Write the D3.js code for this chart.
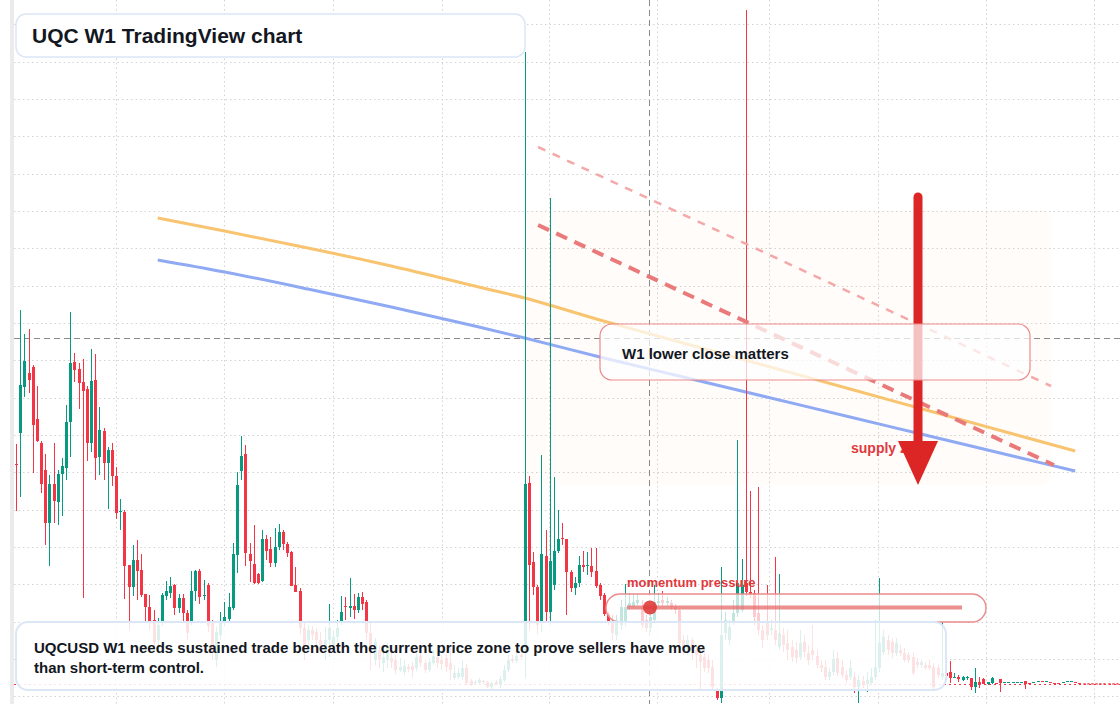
<!DOCTYPE html>
<html><head><meta charset="utf-8">
<script src="https://cdn.jsdelivr.net/npm/d3@7"></script>
<style>html,body{margin:0;padding:0;background:#fff;overflow:hidden}svg{display:block;font-family:"Liberation Sans",Arial,sans-serif}</style>
</head><body><svg id="c" width="1120" height="704"></svg>
<script>
// Weekly UQCUSD candles, prices in US cents
const openP = [
240,271,317,331,337,285,261,234,181,220,
202,230,236,282,342,335,322,315,261,324,
247,273,241,254,228,192,192,139,117,144,
134,110,97,84,64,82,108,111,119,96,
106,91,82,113,133,108,119,82,44,69,
82,85,96,149,233,250,150,140,130,123,
165,155,141,157,172,160,152,119,113,76,
64,74,72,64,54,64,59,67,82,98,
96,98,94,107,102,71,44,54,41,44,
46,44,34,32,37,38,36,48,41,34,
41,47,44,46,41,26,27,27,36,23,
21,21,23,22,17,22,19,24,34,45,
43,49,54,221,142,117,82,148,92,119,
153,166,165,132,116,121,139,138,138,133,
119,109,90,82,69,79,82,97,98,101,
97,84,76,84,101,104,101,101,97,94,
64,54,64,54,49,47,44,37,13,6,
71,64,82,91,94,121,112,111,91,74,
82,74,74,57,69,61,57,54,47,62,
51,54,48,39,37,27,32,46,37,29,
27,27,17,23,20,21,27,36,52,64,
62,51,54,51,49,47,42,39,39,39,
37,36,27,31,32,26,27,24,26,26,
17,22,25,20,21,21,25,21,21,21,
21,21,23,21,21,22,23,22,22,21,
21,21,22,22,22,21,20.5,20.5,20.5,20.5,
20.5,20.5,20.5,20.5,20.5];
const closeP = [
239,319,343,324,279,263,220,181,220,203,
230,238,282,341,334,321,313,261,323,246,
274,241,254,228,191,193,138,117,144,133,
109,97,82,62,79,109,113,118,96,106,
91,71,113,133,107,109,78,51,72,82,
87,97,150,219,248,151,143,121,121,165,
153,141,157,172,160,151,118,112,76,57,
74,69,64,59,64,76,67,76,92,97,
98,94,107,100,71,54,62,44,47,56,
42,34,37,38,35,34,47,41,34,42,
48,41,40,37,34,31,31,36,21,19,
22,24,22,17,21,20,25,34,44,43,
48,47,220,139,117,79,150,92,143,153,
165,165,132,116,121,139,137,139,132,118,
108,90,82,71,84,97,97,101,102,104,
79,76,87,102,103,101,103,97,94,61,
56,64,54,49,42,36,36,17,6,69,
84,77,91,121,119,112,109,87,74,64,
69,76,64,71,59,54,47,46,61,52,
44,49,39,36,27,32,45,31,29,24,
36,17,24,19,24,27,37,61,67,54,
51,61,51,44,44,31,39,42,36,36,
17,29,31,28,26,27,25,27,27,17,
22,19,20,22,26,20,21,22,22,22,
22,22,20,20,22,23,22,23,21,20,
20,22,23,23,21,20,20,20,20,20,
20,20,20,20,20];
const highP = [
260,394,370,375,339,318,263,250,229,261,
234,246,299,392,351,341,345,318,355,350,
297,276,257,261,237,205,194,139,159,164,
150,110,109,94,86,111,123,127,120,110,
110,94,133,134,135,124,121,84,77,92,
102,111,161,232,268,259,161,179,131,174,
169,167,176,180,174,162,153,137,116,82,
79,78,76,72,77,100,74,84,108,107,
126,110,111,112,104,81,66,59,54,61,
54,49,46,44,40,42,54,52,44,46,
54,52,49,50,59,39,36,44,40,25,
24,26,24,23,22,24,28,39,49,49,
54,54,652,228,152,119,249,174,506,227,
194,181,165,134,127,148,153,152,156,156,
121,111,92,89,89,104,120,111,110,110,
104,89,92,119,111,113,107,104,100,96,
69,69,66,59,54,54,49,44,16,137,
92,84,104,264,145,694,213,114,217,79,
119,84,147,130,76,74,64,62,74,69,
59,79,54,44,44,36,54,52,44,34,
44,32,29,28,32,36,84,126,74,69,
66,66,59,56,52,52,46,44,42,44,
41,39,82,36,43,31,29,28,28,26,
36,27,26,22,27,21,25,22,22,22,
22,22,23,21,22,23,23,23,22,21,
21,22,23,23,22,21,20.5,20.5,20.5,20.5,
20.5,20.5,20.5,20.5,20.5];
const lowP = [
193,207,307,311,231,262,211,159,138,181,
179,188,224,247,322,295,106,243,252,224,
229,224,195,218,185,174,105,74,108,104,
107,82,74,56,59,78,104,106,89,91,
81,64,79,103,100,104,72,44,37,64,
78,81,94,131,224,138,122,120,120,122,
144,137,137,154,154,147,118,112,70,44,
56,64,52,54,44,47,54,62,79,84,
87,85,91,94,64,34,39,36,32,36,
36,30,32,29,32,26,33,37,31,32,
39,36,34,32,24,24,25,24,19,18,
20,20,20,16,14,19,16,22,32,41,
41,44,26,74,109,70,72,82,79,114,
151,159,89,112,109,117,132,129,127,116,
104,88,79,64,64,74,78,94,96,99,
76,72,72,82,97,98,98,94,90,58,
49,49,44,36,14,32,31,14,4,1,
64,59,79,87,92,108,106,79,69,56,
64,69,59,54,52,44,42,41,44,46,
39,44,36,32,24,24,29,28,26,21,
24,11,1,16,12,19,24,32,49,49,
46,48,48,42,41,29,36,36,34,34,
14,26,24,24,21,26,22,23,24,14,
11,16,20,19,20,20,12,21,21,21,
21,21,15,20,21,22,22,22,21,20,
20,21,22,22,21,20,20,20,20,20,
20,20,20,20,20];

// moving averages sampled at week indices (cents)
const maWeeks = [34,50,70,90,110,122,140,160,180,200,220,240,254];
const maFast  = [486,473,456,438,418,406,384,361,338,315,292,269,253];
const maSlow  = [444,432,415,397,378,366,347,327,307,287,267,247,233];

// grid ticks
const gridPrices = [679.7,642.4,605,567.7,530.4,493,455.7,418.4,381,343.7,306.4,269,231.7,194.4,157,119.7,82.4,45,7.7];
const gridWeeks = [24.05,49.98,75.95,102.04,127.89,153.79,180.65,206.79,232.69,258.58];

// drawings (week index, price cents)
const trendStrong = [[125.2,479],[248.9,239]];
const trendWeak   = [[125.2,557],[248.2,318]];
const supplyZone  = [121.3,248.4,219,494];
const crosshair   = [151.9,366];

const W = 1120, H = 704;
const N = openP.length;
const svg = d3.select("#c");
const x = d3.scaleLinear().domain([0, N-1]).range([16, 16 + 4.17*(N-1)]);
const y = d3.scaleLinear().domain([0, 704]).range([H, 0]);
const UP = "#089981", DN = "#f23645";

svg.append("rect").attr("x",10).attr("y",0).attr("width",4).attr("height",H).attr("fill","#ebebeb");

const g = svg.append("g");
g.selectAll("line.h").data(gridPrices).join("line")
  .attr("x1",14).attr("x2",W).attr("y1",d=>Math.round(y(d))+0.5).attr("y2",d=>Math.round(y(d))+0.5)
  .attr("stroke","#d2d2d2").attr("stroke-dasharray","1.5 3");
g.selectAll("line.v").data(gridWeeks).join("line")
  .attr("y1",0).attr("y2",H).attr("x1",d=>Math.round(x(d))+0.5).attr("x2",d=>Math.round(x(d))+0.5)
  .attr("stroke","#d2d2d2").attr("stroke-dasharray","1.5 3");

// supply zone
svg.append("rect").attr("x",x(supplyZone[0])).attr("y",y(supplyZone[3]))
  .attr("width",x(supplyZone[1])-x(supplyZone[0])).attr("height",y(supplyZone[2])-y(supplyZone[3]))
  .attr("rx",14).attr("fill","#f5a070").attr("fill-opacity",0.035);

// crosshair
svg.append("line").attr("x1",14).attr("x2",W).attr("y1",Math.round(y(crosshair[1]))+0.5).attr("y2",Math.round(y(crosshair[1]))+0.5)
  .attr("stroke","#8a8a8a").attr("stroke-dasharray","6 4");
svg.append("line").attr("y1",0).attr("y2",H).attr("x1",Math.round(x(crosshair[0]))+0.5).attr("x2",Math.round(x(crosshair[0]))+0.5)
  .attr("stroke","#8a8a8a").attr("stroke-dasharray","6 4");

// last price line
const lastY = Math.round(y(closeP[N-1]))+0.5;
svg.append("line").attr("x1",14).attr("x2",W).attr("y1",lastY).attr("y2",lastY)
  .attr("stroke",DN).attr("stroke-dasharray","2 3");

// moving averages
const lineGen = d3.line().x(d=>x(d[0])).y(d=>y(d[1])).curve(d3.curveMonotoneX);
svg.append("path").attr("d",lineGen(maWeeks.map((w,i)=>[w,maSlow[i]])))
  .attr("fill","none").attr("stroke","#8fa9f3").attr("stroke-width",3);
svg.append("path").attr("d",lineGen(maWeeks.map((w,i)=>[w,maFast[i]])))
  .attr("fill","none").attr("stroke","#f8c470").attr("stroke-width",3);

// candles
const cg = svg.append("g");
const idx = d3.range(N);
cg.selectAll("line.w").data(idx).join("line")
  .attr("x1",i=>Math.round(x(i))+0.5).attr("x2",i=>Math.round(x(i))+0.5)
  .attr("y1",i=>y(highP[i])).attr("y2",i=>y(lowP[i]))
  .attr("stroke",i=>closeP[i]>=openP[i]?UP:DN).attr("stroke-width",1);
cg.selectAll("rect.b").data(idx).join("rect")
  .attr("x",i=>Math.round(x(i))-1).attr("width",3)
  .attr("y",i=>y(Math.max(openP[i],closeP[i])))
  .attr("height",i=>Math.max(1,Math.abs(y(openP[i])-y(closeP[i]))))
  .attr("fill",i=>closeP[i]>=openP[i]?UP:DN);

// trend lines
const tl = d3.line().x(d=>x(d[0])).y(d=>y(d[1]));
svg.append("path").attr("d",tl(trendWeak)).attr("stroke","#f4a8a8").attr("stroke-width",2.5)
  .attr("stroke-dasharray","8 8").attr("fill","none");
svg.append("path").attr("d",tl(trendStrong)).attr("stroke","#ea7a7a").attr("stroke-width",4)
  .attr("stroke-dasharray","12 8").attr("fill","none");

// supply zone label + arrow
svg.append("text").attr("x",851).attr("y",453).attr("font-size",14).attr("font-weight","bold")
  .attr("fill","#e0393e").text("supply zone");
svg.append("line").attr("x1",918).attr("x2",918).attr("y1",197).attr("y2",446)
  .attr("stroke","#dc2626").attr("stroke-width",9).attr("stroke-linecap","round");
svg.append("path").attr("d","M898,441L938,441L918,485Z").attr("fill","#dc2626");

// W1 box
svg.append("rect").attr("x",600).attr("y",324).attr("width",430).attr("height",56).attr("rx",12)
  .attr("fill","#fff").attr("fill-opacity",0.72).attr("stroke","#ec8a8a").attr("stroke-width",1.2);
svg.append("text").attr("x",622).attr("y",359).attr("font-size",15).attr("font-weight","bold")
  .attr("fill","#131722").text("W1 lower close matters");

// momentum pill
svg.append("rect").attr("x",606).attr("y",594).attr("width",380).attr("height",28).attr("rx",14)
  .attr("fill","#fff").attr("fill-opacity",0.75).attr("stroke","#ec8a8a").attr("stroke-width",1.4);
svg.append("line").attr("x1",627).attr("x2",962).attr("y1",607.5).attr("y2",607.5)
  .attr("stroke","#e46a6a").attr("stroke-opacity",0.75).attr("stroke-width",4);
svg.append("circle").attr("cx",650).attr("cy",607.5).attr("r",7).attr("fill","#e03b3b").attr("fill-opacity",0.9);
svg.append("text").attr("x",627).attr("y",587).attr("font-size",13).attr("font-weight","bold")
  .attr("fill","#e0393e").text("momentum pressure");

// note box
svg.append("rect").attr("x",16).attr("y",622).attr("width",930).attr("height",68).attr("rx",12)
  .attr("fill","#fff").attr("fill-opacity",0.86).attr("stroke","#dbe6f7").attr("stroke-width",2);
const note = svg.append("text").attr("font-size",15).attr("font-weight","bold").attr("fill","#131722");
note.append("tspan").attr("x",34).attr("y",653).text("UQCUSD W1 needs sustained trade beneath the current price zone to prove sellers have more");
note.append("tspan").attr("x",34).attr("y",673).text("than short-term control.");

// title box
svg.append("rect").attr("x",16).attr("y",14).attr("width",509).attr("height",43).attr("rx",10)
  .attr("fill","#fff").attr("stroke","#dbe6f7").attr("stroke-width",1.5);
svg.append("text").attr("x",32).attr("y",43).attr("font-size",21).attr("font-weight","bold")
  .attr("fill","#131722").text("UQC W1 TradingView chart");
</script></body></html>
